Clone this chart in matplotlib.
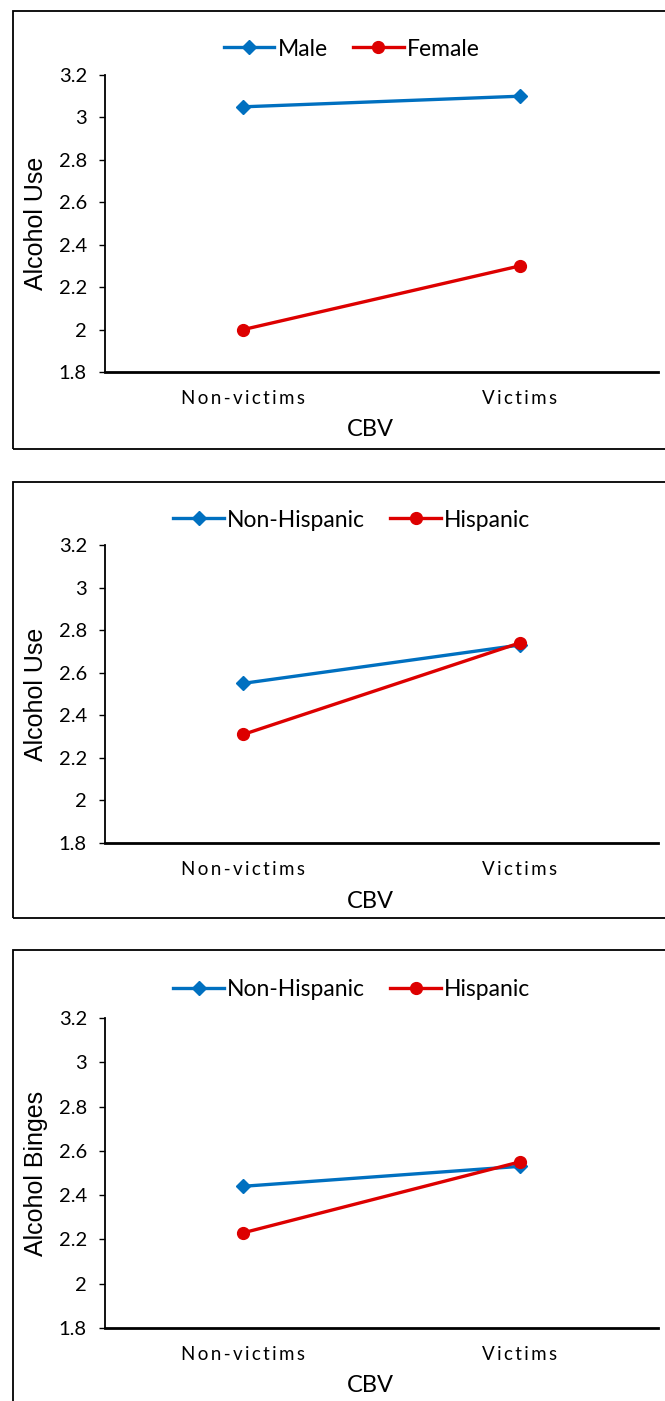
import matplotlib
matplotlib.use('Agg')
import matplotlib.pyplot as plt
from matplotlib.patches import Rectangle

# Group means by CBV status
categories = ['Non-victims', 'Victims']

male_use = [3.05, 3.10]
female_use = [2.00, 2.30]

nonhisp_use = [2.55, 2.73]
hisp_use = [2.31, 2.74]

nonhisp_binge = [2.44, 2.53]
hisp_binge = [2.23, 2.55]

yticks = [1.8, 2.0, 2.2, 2.4, 2.6, 2.8, 3.0, 3.2]
ytick_labels = ['1.8', '2', '2.2', '2.4', '2.6', '2.8', '3', '3.2']

BLUE = '#0070C0'
RED = '#DD0000'
W, H = 665, 1401
FONT = ['Lato', 'DejaVu Sans']

plt.rcParams['font.family'] = FONT

fig = plt.figure(figsize=(W / 100, H / 100), dpi=100)


def fx(px):
    return px / W


def fy(py):
    return 1 - py / H


def spaced(s):
    # Excel-style tracked-out category labels
    return '\u2009'.join(s)


panels = [
    # (series, labels, ylabel, axes top/bottom px, box top/bottom px, legend y px)
    ((male_use, female_use), ('Male', 'Female'), 'Alcohol Use', 75, 372, 11, 449, 49),
    ((nonhisp_use, hisp_use), ('Non-Hispanic', 'Hispanic'), 'Alcohol Use', 545, 843, 482, 918, 520),
    ((nonhisp_binge, hisp_binge), ('Non-Hispanic', 'Hispanic'), 'Alcohol Binges', 1018, 1328, 950, 1420, 990),
]

ax_left, ax_right = 105, 658

for (s1, s2), (l1, l2), ylab, top, bot, btop, bbot, leg_y in panels:
    # chart frame
    fig.patches.append(Rectangle((fx(13), fy(bbot)), fx(700), fy(btop) - fy(bbot),
                                 transform=fig.transFigure, fill=False,
                                 edgecolor='black', linewidth=1.3))

    ax = fig.add_axes([fx(ax_left), fy(bot), fx(ax_right - ax_left), fy(top) - fy(bot)])
    x = range(len(categories))
    ax.plot(x, s1, color=BLUE, lw=2.4, marker='D', ms=7.5, label=l1)
    ax.plot(x, s2, color=RED, lw=2.4, marker='o', ms=8.5, label=l2)

    ax.set_xlim(-0.5, 1.5)
    ax.set_ylim(1.8, 3.2)
    ax.set_yticks(yticks)
    ax.set_yticklabels(ytick_labels)
    ax.set_xticks(list(x))
    ax.set_xticklabels([spaced(c) for c in categories])

    for side in ('top', 'right'):
        ax.spines[side].set_visible(False)
    ax.spines['left'].set_linewidth(1.3)
    ax.spines['bottom'].set_linewidth(2.0)
    ax.tick_params(axis='y', direction='out', length=4, width=1, labelsize=14.5, pad=9)
    ax.tick_params(axis='x', length=0, labelsize=13.5, pad=13)

    fig.text(fx(36), fy((top + bot) / 2), ylab, rotation=90, ha='center', va='center',
             fontsize=18, family=['Liberation Sans', 'DejaVu Sans'])
    fig.text(fx(370), fy(bot + 58), 'CBV', ha='center', va='center', fontsize=17)

    fig.legend(handles=ax.get_lines(), loc='center', bbox_to_anchor=(fx(352), fy(leg_y)),
               ncol=2, frameon=False, fontsize=16.5, handlelength=2.2,
               handletextpad=0.15, columnspacing=1.1, borderaxespad=0)

plt.savefig('out.png', dpi=100)
